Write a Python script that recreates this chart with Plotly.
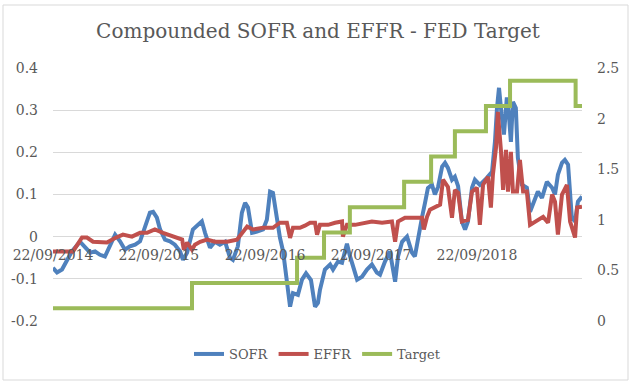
import plotly.graph_objects as go

sofr_dates = ["2014-09-22","2014-10-06","2014-10-23","2014-11-09","2014-11-26","2014-12-24","2015-01-10","2015-01-28",
"2015-02-14","2015-03-03","2015-03-20","2015-04-06","2015-04-24","2015-05-11","2015-05-28","2015-06-14","2015-07-02",
"2015-07-19","2015-08-05","2015-08-22","2015-09-02","2015-09-15","2015-09-26","2015-10-13","2015-10-30","2015-11-16",
"2015-12-04","2015-12-14","2015-12-28","2016-01-07","2016-01-17","2016-02-04","2016-02-17","2016-02-28","2016-03-16",
"2016-04-02","2016-04-19","2016-05-07","2016-05-24","2016-06-03","2016-06-20","2016-07-04","2016-07-15","2016-07-25",
"2016-08-08","2016-08-25","2016-09-15","2016-09-28","2016-10-09","2016-10-19","2016-11-02","2016-11-12","2016-11-23",
"2016-12-06","2016-12-17","2016-12-27","2017-01-13","2017-01-27","2017-02-10","2017-02-27","2017-03-13","2017-03-23",
"2017-03-30","2017-04-16","2017-05-04","2017-05-14","2017-05-31","2017-06-14","2017-07-01","2017-07-11","2017-07-22",
"2017-08-05","2017-08-22","2017-09-08","2017-09-25","2017-10-12","2017-10-23","2017-11-09","2017-11-26","2017-12-14",
"2017-12-24","2018-01-07","2018-01-24","2018-02-10","2018-02-20","2018-03-03","2018-03-17","2018-03-27","2018-04-06",
"2018-04-20","2018-04-30","2018-05-11","2018-05-25","2018-06-04","2018-06-14","2018-06-28","2018-07-08","2018-07-19",
"2018-08-01","2018-08-12","2018-08-22","2018-09-05","2018-09-15","2018-10-02","2018-10-13","2018-10-27","2018-11-13",
"2018-11-23","2018-11-30","2018-12-07","2018-12-17","2018-12-24","2019-01-03","2019-01-10","2019-01-17","2019-01-24",
"2019-02-03","2019-02-10","2019-02-24","2019-03-13","2019-03-24","2019-04-03","2019-04-20","2019-05-04","2019-05-21",
"2019-06-08","2019-06-18","2019-06-28","2019-07-12","2019-07-22","2019-08-02","2019-08-15","2019-08-26","2019-09-05",
"2019-09-19"]
sofr_values = [-0.074,-0.085,-0.078,-0.055,-0.035,-0.012,-0.026,-0.038,
-0.035,-0.043,-0.047,-0.023,0.005,-0.011,-0.031,-0.023,-0.019,
-0.011,0.024,0.057,0.059,0.045,0.017,-0.007,-0.011,-0.019,
-0.035,-0.055,-0.038,-0.012,0.017,0.028,0.036,0.009,-0.026,
-0.012,-0.019,-0.012,-0.050,-0.055,-0.023,0.057,0.080,0.069,
0.009,0.012,0.017,0.040,0.107,0.104,0.033,-0.002,-0.035,
-0.109,-0.166,-0.134,-0.138,-0.102,-0.087,-0.103,-0.166,-0.157,
-0.126,-0.078,-0.066,-0.078,-0.059,-0.062,-0.017,-0.045,-0.071,
-0.102,-0.095,-0.078,-0.066,-0.085,-0.090,-0.059,-0.035,-0.107,
-0.047,-0.012,0.000,-0.038,-0.047,0.000,0.047,0.080,0.115,
0.123,0.100,0.118,0.166,0.175,0.163,0.135,0.142,0.120,
0.036,0.017,0.036,0.116,0.135,0.123,0.130,0.140,0.154,
0.225,0.305,0.353,0.282,0.242,0.330,0.289,0.225,0.320,
0.305,0.187,0.123,0.116,0.059,0.076,0.107,0.092,0.130,
0.116,0.100,0.147,0.175,0.182,0.171,0.045,0.036,0.083,
0.095]

effr_dates = ["2014-09-22","2014-11-30","2014-12-31","2015-01-17","2015-02-07","2015-03-27","2015-04-24","2015-05-21",
"2015-06-21","2015-07-19","2015-08-12","2015-09-08","2015-10-06","2015-11-10","2015-12-11","2015-12-17","2015-12-28",
"2016-01-14","2016-01-24","2016-02-11","2016-03-06","2016-04-02","2016-05-14","2016-06-17","2016-07-22","2016-08-11",
"2016-09-15","2016-10-19","2016-11-12","2016-12-06","2016-12-17","2016-12-27","2017-01-20","2017-02-06","2017-02-24",
"2017-03-13","2017-03-20","2017-03-30","2017-04-27","2017-05-21","2017-06-14","2017-06-17","2017-07-01","2017-07-29",
"2017-09-25","2017-10-30","2017-12-03","2017-12-14","2017-12-24","2018-01-17","2018-02-20","2018-03-17","2018-03-23",
"2018-04-03","2018-04-13","2018-04-30","2018-05-18","2018-05-28","2018-06-14","2018-06-28","2018-07-08","2018-07-19",
"2018-08-01","2018-08-22","2018-09-05","2018-09-22","2018-10-02","2018-10-13","2018-10-30","2018-11-09","2018-11-16",
"2018-11-27","2018-12-03","2018-12-14","2018-12-21","2018-12-31","2019-01-07","2019-01-17","2019-01-24","2019-02-07",
"2019-02-17","2019-02-28","2019-03-13","2019-03-24","2019-04-20","2019-05-08","2019-05-25","2019-06-08","2019-06-18",
"2019-06-28","2019-07-12","2019-07-29","2019-08-09","2019-08-19","2019-08-26","2019-09-02","2019-09-19"]
effr_values = [-0.035,-0.035,-0.002,-0.002,-0.012,-0.014,-0.003,0.005,
0.000,0.009,0.009,0.017,0.009,0.000,-0.007,-0.031,-0.014,
-0.031,-0.019,-0.012,-0.007,-0.012,-0.012,-0.007,0.024,0.017,
0.021,0.021,0.033,0.033,-0.003,0.021,0.021,0.026,0.033,
0.033,0.005,0.028,0.028,0.033,0.036,0.000,0.028,0.028,
0.036,0.033,0.036,-0.012,0.036,0.045,0.045,0.045,0.017,
0.047,0.064,0.071,0.076,0.135,0.118,0.045,0.111,0.104,
0.036,0.040,0.107,0.116,0.028,0.123,0.142,0.069,0.147,
0.213,0.296,0.201,0.111,0.206,0.107,0.201,0.107,0.107,
0.182,0.107,0.107,0.028,0.040,0.047,0.033,0.100,0.083,
0.005,0.100,0.123,0.036,0.012,-0.002,0.069,0.071]

target_dates = ["2014-09-22","2016-01-14","2017-01-10","2017-04-13","2017-07-11","2018-01-14",
"2018-04-17","2018-07-08","2018-10-23","2019-01-14","2019-08-28","2019-09-19"]
target_values = [0.125,0.375,0.625,0.875,1.125,1.375,1.625,1.875,2.125,2.375,2.125,2.125]

x_tick_dates = ["2014-09-22","2015-09-22","2016-09-22","2017-09-22","2018-09-22"]
x_tick_labels = ["22/09/2014","22/09/2015","22/09/2016","22/09/2017","22/09/2018"]
left_ticks = [-0.2,-0.1,0,0.1,0.2,0.3,0.4]
left_labels = ["-0.2","-0.1","0","0.1","0.2","0.3","0.4"]
right_ticks = [0,0.5,1,1.5,2,2.5]
right_labels = ["0","0.5","1","1.5","2","2.5"]

FONT = "DejaVu Serif"
GREY = "#595959"

fig = go.Figure()
fig.add_trace(go.Scatter(x=sofr_dates, y=sofr_values, name="SOFR", mode="lines",
                         line=dict(color="#4f81bd", width=4)))
fig.add_trace(go.Scatter(x=effr_dates, y=effr_values, name="EFFR", mode="lines",
                         line=dict(color="#c0504d", width=4)))
fig.add_trace(go.Scatter(x=target_dates, y=target_values, name="Target", mode="lines",
                         line=dict(color="#9bbb59", width=4, shape="hv"), yaxis="y2"))

L, R, T, B = 53, 54, 68, 64
plot_w = 636 - L - R
plot_h = 385 - T - B
zero_pos = (0 - (-0.2)) / 0.6

fig.update_layout(
    width=636, height=385,
    margin=dict(l=L, r=R, t=T, b=B),
    paper_bgcolor="white", plot_bgcolor="white",
    font=dict(family=FONT, color=GREY, size=14),
    title=dict(text="Compounded SOFR and EFFR - FED Target", x=0.5, xanchor="center",
               y=1 - 31/385, yanchor="middle", font=dict(family=FONT, size=20, color=GREY)),
    xaxis=dict(type="date", range=["2014-09-22", "2019-09-19"], tickvals=x_tick_dates,
               ticktext=x_tick_labels, showgrid=False, zeroline=False, showline=False,
               anchor="free", position=zero_pos, ticks="", ticklabelstandoff=8,
               tickfont=dict(size=14, color=GREY)),
    yaxis=dict(range=[-0.2, 0.4], tickvals=left_ticks, ticktext=left_labels, showgrid=True,
               gridcolor="#d9d9d9", gridwidth=1, zeroline=False, showline=False, ticks="",
               ticklabelstandoff=14, tickfont=dict(size=14, color=GREY)),
    yaxis2=dict(range=[0, 2.5], tickvals=right_ticks, ticktext=right_labels, overlaying="y",
                side="right", showgrid=False, zeroline=False, showline=False, ticks="",
                ticklabelstandoff=14, tickfont=dict(size=14, color=GREY)),
    legend=dict(orientation="h", x=0.5, xanchor="center", y=(321-354)/plot_h, yanchor="middle",
                font=dict(size=13, color=GREY), bgcolor="rgba(0,0,0,0)", itemwidth=30,
                tracegroupgap=0),
    showlegend=True,
)

fig.add_shape(type="rect", xref="paper", yref="paper",
              x0=(3-L)/plot_w, x1=(628-L)/plot_w, y0=(321-380)/plot_h, y1=(321-5)/plot_h,
              line=dict(color="#d9d9d9", width=1), fillcolor="rgba(0,0,0,0)", layer="below")

fig.write_html("out.html", config={"displayModeBar": False},
               post_script="document.body.style.margin='0px';")
